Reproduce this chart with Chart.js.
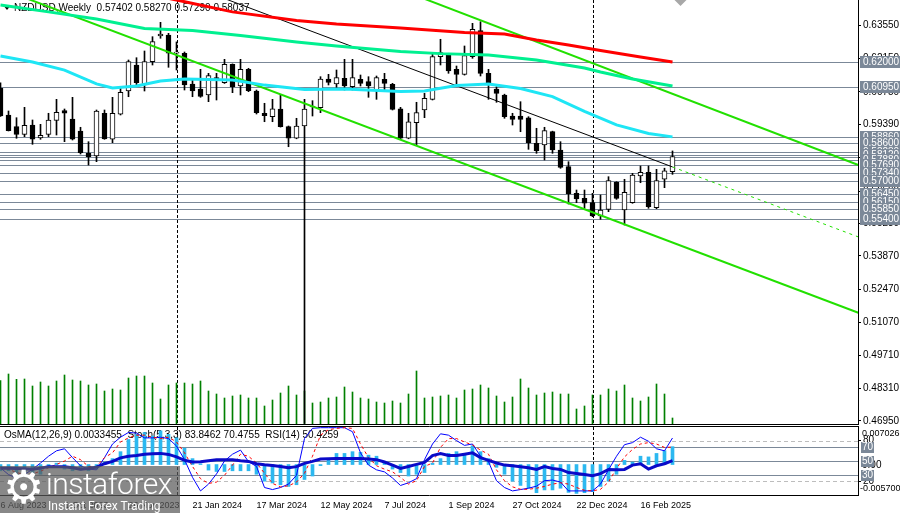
<!DOCTYPE html>
<html>
<head>
<meta charset="utf-8">
<title>NZDUSD Weekly</title>
<script src="https://cdn.jsdelivr.net/npm/chart.js@4.4.1/dist/chart.umd.min.js"></script>
<style>
  html, body { margin: 0; padding: 0; background: #fff; }
  #wrap { position: relative; width: 900px; height: 513px; overflow: hidden; }
  canvas { position: absolute; left: 0; }
  #mainChart { top: 0; }
  #oscChart { top: 425px; }
  .logo { position: absolute; left: 0; top: 466px; width: 180px; height: 47px; background: rgba(90, 90, 90, 0.72); color: #fff; font-family: Roboto, "Open Sans", sans-serif; }
  .logo .gear { position: absolute; left: 3px; top: -6px; font-size: 46px; font-family: "DejaVu Sans", sans-serif; }
  .logo .name { position: absolute; left: 46px; top: 0px; font-size: 30px; font-weight: 300; letter-spacing: -0.5px; }
  .logo .tag { position: absolute; left: 48px; top: 33px; font-size: 12px; }
</style>
</head>
<body>
<div id="wrap">
  <canvas id="mainChart" width="900" height="425"></canvas>
  <canvas id="oscChart" width="900" height="88"></canvas>
  <div class="logo"><span class="gear">⚙</span><span class="name">instaforex</span><span class="tag">Instant Forex Trading</span></div>
</div>
<script>
// NZDUSD weekly, one bar per week from 6 Aug 2023 (index 0) to 16 Mar 2025 (index 84)

const opens = [
  0.60897, 0.59777, 0.59287, 0.58968, 0.59358, 0.58813, 0.58968, 0.59555, 0.59958, 0.59610,
  0.59107, 0.58172, 0.58059, 0.59849, 0.58759, 0.59807, 0.60783, 0.61873, 0.61035, 0.62012,
  0.63089, 0.63131, 0.62364, 0.62364, 0.61077, 0.60867, 0.60616, 0.61341, 0.61131, 0.61902,
  0.60993, 0.61693, 0.60783, 0.59849, 0.59706, 0.60029, 0.59287, 0.58801, 0.59316, 0.60113,
  0.60083, 0.61286, 0.61077, 0.61316, 0.60964, 0.61274, 0.61173, 0.60825, 0.61274, 0.61064,
  0.60040, 0.58801, 0.59454, 0.59987, 0.60435, 0.62221, 0.62292, 0.61693, 0.61483, 0.62221,
  0.63311, 0.61525, 0.60867, 0.60616, 0.59735, 0.59735, 0.59660, 0.58591, 0.58520, 0.59077,
  0.58310, 0.57610, 0.56495, 0.56285, 0.56101, 0.55543, 0.55824, 0.56956, 0.55795, 0.56101,
  0.57220, 0.57375, 0.55891, 0.57082, 0.57402
];
const highs = [
  0.61131, 0.59945, 0.59664, 0.60100, 0.59568, 0.59387, 0.59849, 0.60435, 0.60029, 0.60519,
  0.59262, 0.58658, 0.59987, 0.59987, 0.60519, 0.60964, 0.62083, 0.62179, 0.62460, 0.63060,
  0.63663, 0.63202, 0.62840, 0.62418, 0.61244, 0.61693, 0.61525, 0.61525, 0.62112, 0.61920,
  0.62112, 0.61735, 0.60825, 0.60268, 0.60435, 0.60616, 0.59316, 0.59639, 0.60435, 0.60377,
  0.61383, 0.61483, 0.61664, 0.62112, 0.62112, 0.61454, 0.61383, 0.61412, 0.61525, 0.61106,
  0.60100, 0.59849, 0.60310, 0.60687, 0.62364, 0.62951, 0.62364, 0.61831, 0.62670, 0.63621,
  0.63688, 0.61693, 0.60964, 0.60650, 0.59849, 0.60335, 0.59706, 0.59220, 0.59262, 0.59100,
  0.58658, 0.57820, 0.56633, 0.56633, 0.56495, 0.56424, 0.57191, 0.56981, 0.57082, 0.57333,
  0.57639, 0.57639, 0.57501, 0.57547, 0.58270
];
const lows = [
  0.59720, 0.59107, 0.58801, 0.58868, 0.58549, 0.58759, 0.58868, 0.58939, 0.58658, 0.58729,
  0.58142, 0.57681, 0.57820, 0.58759, 0.58616, 0.59777, 0.60544, 0.60993, 0.60783, 0.61873,
  0.62993, 0.61777, 0.61664, 0.60825, 0.60544, 0.60520, 0.60335, 0.60406, 0.61100, 0.60712,
  0.60616, 0.60754, 0.59819, 0.59496, 0.59496, 0.59270, 0.58448, 0.58780, 0.46850, 0.59735,
  0.59874, 0.61035, 0.60897, 0.60825, 0.60825, 0.60993, 0.60519, 0.60435, 0.60825, 0.59987,
  0.58759, 0.58780, 0.58520, 0.59664, 0.60406, 0.61873, 0.61525, 0.60993, 0.61450, 0.62154,
  0.61412, 0.60435, 0.60310, 0.59639, 0.59358, 0.59077, 0.58339, 0.58172, 0.57891, 0.58172,
  0.57543, 0.56046, 0.56101, 0.55866, 0.55514, 0.55405, 0.55724, 0.56243, 0.55166, 0.56076,
  0.56939, 0.55866, 0.55849, 0.56730, 0.57290
];
const closes = [
  0.59735, 0.59119, 0.58968, 0.59345, 0.58759, 0.58926, 0.59568, 0.59890, 0.59849, 0.58759,
  0.58197, 0.58029, 0.59945, 0.58771, 0.59849, 0.60729, 0.62012, 0.61131, 0.62012, 0.62850,
  0.63173, 0.62364, 0.62420, 0.61035, 0.60783, 0.60560, 0.61425, 0.61244, 0.61902, 0.60964,
  0.61693, 0.60796, 0.59874, 0.59748, 0.60041, 0.59287, 0.58801, 0.59316, 0.60029, 0.60155,
  0.61286, 0.61148, 0.61341, 0.60993, 0.61341, 0.61106, 0.60993, 0.61341, 0.61106, 0.60016,
  0.58801, 0.59496, 0.59874, 0.60477, 0.62221, 0.62389, 0.61622, 0.61483, 0.62263, 0.63370,
  0.61525, 0.61131, 0.60687, 0.59706, 0.59597, 0.59597, 0.58616, 0.58281, 0.59119, 0.58310,
  0.57585, 0.56466, 0.56256, 0.56076, 0.55543, 0.55795, 0.57023, 0.56285, 0.56537, 0.57262,
  0.57375, 0.55933, 0.57023, 0.57442, 0.58037
];
const volumes = [
  43300, 50000, 44700, 45000, 38000, 42000, 38000, 43000, 49000, 44000,
  43000, 39000, 40000, 33000, 35000, 34000, 46000, 48000, 48000, 41000,
  25000, 39000, 41000, 41000, 40000, 43000, 33000, 30000, 26000, 28000,
  29000, 26000, 26000, 18000, 24000, 31000, 38000, 29000, 33000, 21000,
  22000, 26000, 27000, 37000, 32000, 26000, 25000, 22000, 21000, 23000,
  21000, 30000, 53000, 26000, 27000, 28000, 29000, 26000, 34000, 35000,
  39000, 36000, 28000, 22000, 27000, 45000, 36000, 29000, 31000, 32000,
  30000, 30000, 15000, 18000, 29000, 29000, 35000, 33000, 39000, 26000,
  23000, 27000, 40000, 30000, 6000
];

// moving averages, read as [bar, price]
const maSlow = [[0, 0.6607], [22, 0.6460], [29, 0.6410], [37, 0.6374], [42, 0.6359], [50, 0.6342], [58, 0.6324],
  [63, 0.6317], [67, 0.6292], [71, 0.6271], [75, 0.6248], [80, 0.6221], [84, 0.6200]];
const maMid = [[0, 0.6439], [6, 0.6410], [12, 0.6380], [18, 0.6340], [24, 0.6332], [30, 0.6311], [37, 0.6284],
  [42, 0.6267], [50, 0.6244], [55, 0.6235], [61, 0.6229], [67, 0.6208], [73, 0.6175], [75, 0.6158], [79, 0.6129], [84, 0.6099]];
const maFast = [[0, 0.6225], [4, 0.6200], [8, 0.6166], [12, 0.6108], [14, 0.6091], [17, 0.6099], [20, 0.6120],
  [23, 0.6129], [29, 0.6124], [33, 0.6103], [38, 0.6085], [43, 0.6087], [50, 0.6076], [53, 0.6078], [57, 0.6101],
  [61, 0.6108], [65, 0.6089], [69, 0.6055], [73, 0.5993], [77, 0.5936], [81, 0.5900], [84, 0.5886]];

// trend channel anchors [bar, price]
const channelLower = [[0, 0.65080], [107.25, 0.51485]];
const channelUpper = [[48, 0.65290], [107.25, 0.57681]];
const trendLine = [[24, 0.65164], [84, 0.57600]];
const trendProjection = [[84, 0.57600], [107.25, 0.54663]];

// horizontal levels
const levels = [0.62000, 0.60950, 0.58860, 0.58600, 0.58230, 0.58120, 0.58000, 0.57880, 0.57690,
  0.57340, 0.57000, 0.56450, 0.56150, 0.55850, 0.55400];
const labelledLevels = [0.62000, 0.60950, 0.58860, 0.58600, 0.58230, 0.58120, 0.57880, 0.57690,
  0.57340, 0.57000, 0.56450, 0.56150, 0.55850, 0.55400];
const priceTicks = [0.63550, 0.62150, 0.60750, 0.59390, 0.57990, 0.56590, 0.55230, 0.53870,
  0.52470, 0.51070, 0.49710, 0.48310, 0.46950];
const markerBars = [22, 74];

// oscillators
const osma = [
  -0.00117, -0.00117, -0.00182, -0.00215, -0.00247, -0.00182, -0.00052, 0.00026, -0.00085, -0.00117,
  -0.00104, -0.00117, -0.00085, 0.00046, 0.00111, 0.00241, 0.00469, 0.00566, 0.00599, 0.00534,
  0.00631, 0.00566, 0.00501, 0.00306, 0.00111, 0.00013, -0.00104, -0.00130, -0.00130, -0.00117,
  -0.00117, -0.00117, -0.00182, -0.00312, -0.00345, -0.00378, -0.00410, -0.00378, -0.00280, -0.00215,
  -0.00020, 0.00091, 0.00208, 0.00208, 0.00241, 0.00228, 0.00176, 0.00156, 0.00046, -0.00085,
  -0.00150, -0.00215, -0.00182, -0.00150, 0.00026, 0.00111, 0.00208, 0.00241, 0.00208, 0.00352,
  0.00241, 0.00111, -0.00052, -0.00182, -0.00312, -0.00391, -0.00443, -0.00527, -0.00475, -0.00475,
  -0.00443, -0.00521, -0.00540, -0.00527, -0.00508, -0.00410, -0.00312, -0.00182, 0.00078, 0.00046,
  0.00156, 0.00143, 0.00208, 0.00260, 0.0033455
];
const rsi = [
  39.2, 39.5, 39, 38.5, 38, 39.5, 41.7, 41.7, 41.7, 40,
  38, 39, 41, 46, 49.4, 54.6, 57, 58, 60, 60.5,
  61.2, 59.7, 56, 51, 48.4, 49, 50.5, 52, 52, 52,
  50.5, 49.4, 46, 44.5, 43.3, 42, 40.2, 41.7, 46.5, 49.4,
  53, 53.3, 53.5, 53.5, 53.5, 53.5, 53, 52, 48.5, 44,
  39.2, 42, 45, 48, 58, 61, 58, 58, 60, 62,
  55, 51, 47, 44, 43, 41.7, 40, 37.6, 41.7, 39,
  37.6, 33, 31.5, 30, 28.5, 31.5, 37.6, 37, 37.6, 44,
  46, 38.2, 43, 46, 50.4259
];
const stochMain = [
  40, 30, 25, 30, 38, 47, 57, 65, 68, 55,
  43, 38, 37, 55, 75, 85, 92, 91, 84, 84,
  85, 83, 72, 52, 26, 6, 16, 31, 50, 60,
  66, 49, 42, 11, 8, 11, 16, 29, 83, 98,
  99, 99, 99, 99, 93, 62, 44, 37, 34, 25,
  14, 18, 24, 52, 75, 90, 88, 80, 73, 75,
  57, 49, 21, 11, 6, 8, 10, 13, 21, 22,
  19, 6, 6, 6, 6, 16, 37, 57, 74, 77,
  85, 79, 68, 65, 83.8462
];
const stochSignal = [
  40, 38, 33, 30, 31, 35, 40, 45, 50, 57,
  52, 42, 42, 55, 62, 78, 84, 88, 88, 85,
  83, 85, 78, 62, 42, 24, 17, 19, 29, 44,
  60, 57, 47, 32, 17, 12, 13.5, 19, 32, 57,
  88, 96, 98, 99, 98, 75, 55, 43, 38, 34,
  26, 16, 21, 42, 47, 70, 83, 83, 78, 73.5,
  66, 60, 37, 21, 12, 8.4, 8.4, 10, 12.6, 16,
  18, 16, 11, 7, 6, 8.4, 19, 39, 56, 67,
  75, 77, 75, 70, 70.4755
];
const oscLevelsSolid = [70, 50, 30];
const oscLevelsDashed = [80, 20];

const dateTicks = [0, 8, 16, 24, 32, 40, 48, 56, 64, 72, 80];
const dateLabels = ['6 Aug 2023', '1 Oct 2023', '26 Nov 2023', '21 Jan 2024', '17 Mar 2024', '12 May 2024',
  '7 Jul 2024', '1 Sep 2024', '27 Oct 2024', '22 Dec 2024', '16 Feb 2025'];

// style
const FONT = "'Liberation Sans', Arial, sans-serif";
const levelColor = '#7b8898';
const xMin = -0.0625, xMax = 107.1875;

const last = opens.length - 1;
const pairs = arr => arr.map(([x, y]) => ({ x, y }));
const idx = arr => arr.map((y, x) => ({ x, y }));

const lineSet = (data, color, width, order, dash) => ({
  type: 'line', data, borderColor: color, borderWidth: width, pointRadius: 0,
  tension: 0, fill: false, order, borderDash: dash || [], yAxisID: 'y'
});

const hline = (ctx, a, py) => {
  ctx.beginPath(); ctx.moveTo(a.left, py); ctx.lineTo(a.right, py); ctx.stroke();
};

// Main panel decorations
const mainDecor = {
  id: 'mainDecor',
  beforeDatasetsDraw(chart) {
    const { ctx, chartArea: a, scales: { x, y } } = chart;
    ctx.save();
    ctx.lineWidth = 1;
    ctx.strokeStyle = levelColor;
    levels.forEach(v => hline(ctx, a, Math.round(y.getPixelForValue(v)) + 0.5));

    ctx.strokeStyle = '#000';
    ctx.setLineDash([3, 2]);
    markerBars.forEach(i => {
      const px = Math.round(x.getPixelForValue(i)) + 0.5;
      ctx.beginPath(); ctx.moveTo(px, a.top); ctx.lineTo(px, a.bottom); ctx.stroke();
    });
    ctx.setLineDash([]);

    // header
    ctx.fillStyle = '#000';
    ctx.beginPath(); ctx.moveTo(3, 5); ctx.lineTo(11, 5); ctx.lineTo(7, 10); ctx.fill();
    ctx.font = `10px ${FONT}`;
    ctx.textBaseline = 'middle';
    const ohlc = [opens[last], highs[last], lows[last], closes[last]].map(v => v.toFixed(5)).join(' ');
    ctx.fillText('NZDUSD,Weekly  ' + ohlc, 14, 8);
    ctx.restore();
  },
  afterDraw(chart) {
    const { ctx, chartArea: a, scales: { x, y } } = chart;
    ctx.save();
    ctx.strokeStyle = '#000';
    ctx.lineWidth = 1;
    ctx.beginPath();
    ctx.moveTo(0, a.bottom + 0.5); ctx.lineTo(a.right + 1, a.bottom + 0.5);
    ctx.moveTo(a.right + 0.5, 0); ctx.lineTo(a.right + 0.5, a.bottom + 1);
    ctx.stroke();

    // level price labels
    ctx.font = `10px ${FONT}`;
    ctx.textBaseline = 'middle';
    labelledLevels.forEach(v => {
      const py = Math.round(y.getPixelForValue(v));
      ctx.fillStyle = levelColor;
      ctx.fillRect(a.right + 2, py - 6, 40, 12);
      ctx.fillStyle = '#fff';
      ctx.fillText(v.toFixed(5), a.right + 5, py + 0.5);
    });

    // chart shift marker
    const sx = x.getPixelForValue(last + 1);
    ctx.fillStyle = '#a8a8a8';
    ctx.beginPath(); ctx.moveTo(sx - 6, 0); ctx.lineTo(sx + 6, 0); ctx.lineTo(sx, 6); ctx.fill();
    ctx.restore();
  }
};

const mainChart = new Chart(document.getElementById('mainChart'), {
  type: 'bar',
  data: {
    datasets: [
      lineSet(pairs(maSlow), '#ff0000', 3, 0),
      lineSet(pairs(maMid), '#00f090', 3, 0),
      lineSet(pairs(maFast), '#1ee6f5', 3, 0),
      lineSet(pairs(channelLower), '#22e000', 2, 1),
      lineSet(pairs(channelUpper), '#22e000', 2, 1),
      lineSet(pairs(trendLine), '#000000', 1, 1),
      lineSet(pairs(trendProjection), '#22e000', 1, 1, [3, 4]),
      {
        type: 'bar', order: 2, yAxisID: 'y', grouped: false, barThickness: 5,
        data: opens.map((o, i) => ({ x: i, y: [o, closes[i]] })),
        backgroundColor: opens.map((o, i) => closes[i] >= o ? '#ffffff' : '#000000'),
        borderColor: '#000000', borderWidth: 1, borderSkipped: false
      },
      {
        type: 'bar', order: 3, yAxisID: 'y', grouped: false, barThickness: 1,
        data: lows.map((l, i) => ({ x: i, y: [l, highs[i]] })),
        backgroundColor: '#000000'
      },
      {
        type: 'bar', order: 4, yAxisID: 'yVol', grouped: false, barThickness: 1,
        data: idx(volumes), backgroundColor: '#008000'
      }
    ]
  },
  options: {
    responsive: false, animation: false, devicePixelRatio: 1,
    layout: { padding: { top: 0, bottom: 1, left: 0, right: 0 } },
    plugins: { legend: { display: false }, tooltip: { enabled: false } },
    scales: {
      x: { type: 'linear', min: xMin, max: xMax, offset: false, display: false },
      y: {
        position: 'right', min: 0.46824, max: 0.64598,
        afterBuildTicks: s => { s.ticks = priceTicks.map(value => ({ value })); },
        afterFit: s => { s.width = 42; s.paddingTop = 0; s.paddingBottom = 0; },
        ticks: { font: { family: FONT, size: 10 }, color: '#000', padding: 2, callback: v => v.toFixed(5) },
        grid: { display: true, drawOnChartArea: false, drawTicks: true, tickLength: 3, color: '#000' },
        border: { display: false }
      },
      yVol: { display: false, min: 0, max: 424000 }
    }
  },
  plugins: [mainDecor]
});

// Oscillator panel decorations
const oscDecor = {
  id: 'oscDecor',
  beforeDatasetsDraw(chart) {
    const { ctx, chartArea: a, scales: { x, yOsc } } = chart;
    ctx.save();
    ctx.lineWidth = 1;
    ctx.strokeStyle = '#bdbdbd';
    ctx.setLineDash([4, 3]);
    oscLevelsDashed.forEach(v => hline(ctx, a, Math.round(yOsc.getPixelForValue(v)) + 0.5));
    ctx.setLineDash([]);
    ctx.strokeStyle = levelColor;
    oscLevelsSolid.forEach(v => hline(ctx, a, Math.round(yOsc.getPixelForValue(v)) + 0.5));

    ctx.strokeStyle = '#000';
    ctx.setLineDash([3, 2]);
    markerBars.forEach(i => {
      const px = Math.round(x.getPixelForValue(i)) + 0.5;
      ctx.beginPath(); ctx.moveTo(px, a.top); ctx.lineTo(px, a.bottom); ctx.stroke();
    });
    ctx.setLineDash([]);

    ctx.fillStyle = '#000';
    ctx.font = `10px ${FONT}`;
    ctx.textBaseline = 'middle';
    const head = `OsMA(12,26,9) ${osma[last].toFixed(7)}  Stoch(5,3,3) ${stochMain[last].toFixed(4)} ` +
      `${stochSignal[last].toFixed(4)}  RSI(14) ${rsi[last].toFixed(4)}`;
    ctx.fillText(head, 4, a.top + 8);
    ctx.restore();
  },
  afterDraw(chart) {
    const { ctx, chartArea: a, scales: { yOsc, yOsma } } = chart;
    ctx.save();
    ctx.strokeStyle = '#000';
    ctx.lineWidth = 1;
    ctx.beginPath();
    ctx.moveTo(0, a.top - 0.5); ctx.lineTo(a.right + 1, a.top - 0.5);
    ctx.moveTo(0, a.bottom + 0.5); ctx.lineTo(a.right + 1, a.bottom + 0.5);
    ctx.moveTo(a.right + 0.5, a.top - 1); ctx.lineTo(a.right + 0.5, a.bottom + 1);
    ctx.stroke();

    ctx.font = `9px ${FONT}`;
    ctx.fillStyle = '#000';
    ctx.textBaseline = 'middle';
    ctx.fillText(yOsma.max.toFixed(6), a.right + 4, a.top + 7);
    ctx.fillText(yOsma.min.toFixed(6), a.right + 2, a.bottom - 6);
    ctx.font = `10px ${FONT}`;
    ctx.fillText('0.00', a.right + 4, Math.round(yOsma.getPixelForValue(0)));

    oscLevelsSolid.forEach(v => {
      const py = Math.round(yOsc.getPixelForValue(v));
      ctx.fillStyle = levelColor;
      ctx.fillRect(a.right + 3, py - 5, 13, 11);
      ctx.fillStyle = '#fff';
      ctx.fillText(String(v), a.right + 4, py + 0.5);
    });
    ctx.restore();
  }
};

const oscChart = new Chart(document.getElementById('oscChart'), {
  type: 'bar',
  data: {
    datasets: [
      { type: 'line', order: 0, yAxisID: 'yOsc', data: idx(rsi), borderColor: '#0a0ac8', borderWidth: 3, pointRadius: 0, tension: 0 },
      { type: 'line', order: 1, yAxisID: 'yOsc', data: idx(stochSignal), borderColor: '#ff0000', borderWidth: 1, borderDash: [3, 3], pointRadius: 0, tension: 0 },
      { type: 'line', order: 2, yAxisID: 'yOsc', data: idx(stochMain), borderColor: '#0000ff', borderWidth: 1, pointRadius: 0, tension: 0 },
      { type: 'bar', order: 3, yAxisID: 'yOsma', grouped: false, barThickness: 3, data: idx(osma), backgroundColor: '#2cb8f0' }
    ]
  },
  options: {
    responsive: false, animation: false, devicePixelRatio: 1,
    layout: { padding: { top: 2, bottom: 0, left: 0, right: 0 } },
    plugins: { legend: { display: false }, tooltip: { enabled: false } },
    scales: {
      x: {
        type: 'linear', min: xMin, max: xMax, offset: false,
        afterBuildTicks: s => { s.ticks = dateTicks.map(value => ({ value })); },
        afterFit: s => { s.height = 18; s.paddingLeft = 0; s.paddingRight = 0; },
        ticks: {
          font: { family: FONT, size: 9 }, color: '#000', padding: 5, align: 'start',
          maxRotation: 0, autoSkip: false, callback: v => dateLabels[dateTicks.indexOf(v)]
        },
        grid: { display: true, drawOnChartArea: false, drawTicks: false },
        border: { display: false }
      },
      yOsc: {
        position: 'right', min: 0, max: 100,
        afterBuildTicks: s => { s.ticks = oscLevelsDashed.map(value => ({ value })); },
        afterFit: s => { s.width = 42; s.paddingTop = 0; s.paddingBottom = 0; },
        ticks: { font: { family: FONT, size: 10 }, color: '#000', padding: 2 },
        grid: { display: true, drawOnChartArea: false, drawTicks: true, tickLength: 3, color: '#000' },
        border: { display: false }
      },
      yOsma: { display: false, min: -0.0057, max: 0.007026 }
    }
  },
  plugins: [oscDecor]
});
</script>
</body>
</html>
